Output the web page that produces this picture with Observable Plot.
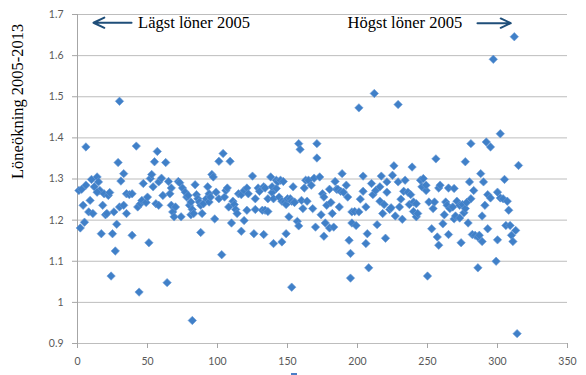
<!DOCTYPE html>
<html>
<head>
<meta charset="utf-8">
<script src="https://cdn.jsdelivr.net/npm/d3@7"></script>
<script src="https://cdn.jsdelivr.net/npm/@observablehq/plot@0.6"></script>
<style>
  html, body { margin: 0; padding: 0; background: #fff; }
  #chart { position: relative; width: 586px; height: 375px; overflow: hidden; }
  #legendbit { position: absolute; left: 291px; top: 373px; width: 6px; height: 2px; background: #4a7fc8; }
</style>
</head>
<body>
<div id="chart"><div id="legendbit"></div></div>
<script>
const xTicks = [0, 50, 100, 150, 200, 250, 300, 350];
const yTicks = [0.9, 1.0, 1.1, 1.2, 1.3, 1.4, 1.5, 1.6, 1.7];
const yLabel = "Löneökning 2005-2013";

// rank (x) and wage increase (y)
const xs = [
1,3,2,5,4,6,6,9,8,11,10,12,14,15,16,14,17,18,20,21,19,22,23,24,25,26,27,28,29,30,30,31,33,33,35,35,37,39,39,42,43,44,45,46,49,50,47,51,52,53,54,55,56,57,58,58,
60,61,63,65,67,66,67,68,70,69,72,73,74,75,77,78,79,80,81,82,81,84,85,86,83,87,88,88,89,90,92,93,94,94,95,96,97,98,99,101,101,104,103,105,106,107,108,109,110,111,112,113,114,115,117,117,119,119,64,82,
121,121,122,125,126,127,127,129,130,132,133,133,134,134,136,136,138,139,139,140,140,142,142,143,144,145,146,146,147,148,149,149,150,151,152,153,153,154,155,155,157,158,158,159,160,161,162,163,164,165,167,168,169,170,171,171,173,174,175,176,176,177,178,180,180,
181,182,183,184,185,186,187,188,189,190,192,193,194,195,195,196,196,198,199,201,201,202,204,204,206,206,207,208,210,211,212,213,214,216,216,217,218,219,220,221,221,223,224,225,226,227,229,229,230,231,232,233,234,236,237,238,239,240,240,
242,242,243,245,246,247,249,249,250,251,253,254,255,256,257,258,258,259,261,262,263,264,265,265,266,268,269,269,270,271,273,273,274,275,276,277,277,278,279,280,281,281,282,283,284,286,286,287,288,289,289,290,291,292,293,293,295,295,297,299,300,300,302,
312,315,305,302,304,307,308,306,309,313,310,311,314
];
const ys = [
1.272,1.275,1.181,1.195,1.236,1.378,1.285,1.248,1.220,1.216,1.299,1.281,1.305,1.293,1.272,1.268,1.167,1.236,1.213,1.216,1.264,1.260,1.267,1.064,1.167,1.220,1.125,1.190,1.340,1.489,1.232,1.295,1.313,1.236,1.216,1.264,1.262,1.264,1.163,1.380,1.232,1.025,1.240,1.248,1.243,1.256,1.289,1.145,1.301,1.311,1.281,1.342,1.240,1.367,1.236,1.293,
1.302,1.260,1.340,1.294,1.278,1.264,1.236,1.220,1.232,1.208,1.294,1.291,1.208,1.278,1.268,1.256,1.260,1.236,1.244,1.226,1.213,1.286,1.262,1.252,1.216,1.244,1.236,1.170,1.216,1.240,1.252,1.281,1.264,1.244,1.256,1.311,1.305,1.203,1.268,1.252,1.343,1.362,1.116,1.256,1.272,1.278,1.232,1.343,1.193,1.246,1.238,1.226,1.216,1.264,1.262,1.173,1.272,1.199,1.048,0.956,
1.278,1.224,1.264,1.307,1.167,1.226,1.252,1.278,1.270,1.224,1.281,1.165,1.224,1.278,1.221,1.252,1.305,1.267,1.281,1.143,1.252,1.297,1.277,1.293,1.256,1.297,1.246,1.147,1.294,1.244,1.167,1.238,1.252,1.208,1.252,1.037,1.246,1.281,1.244,1.243,1.197,1.386,1.186,1.372,1.248,1.228,1.278,1.297,1.246,1.297,1.285,1.228,1.302,1.183,1.386,1.351,1.305,1.213,1.264,1.161,1.256,1.193,1.236,1.275,1.181,
1.243,1.216,1.183,1.294,1.275,1.275,1.232,1.270,1.313,1.268,1.285,1.256,1.151,1.119,1.059,1.220,1.193,1.221,1.187,1.473,1.220,1.251,1.270,1.307,1.232,1.143,1.167,1.084,1.289,1.262,1.508,1.272,1.189,1.246,1.281,1.307,1.216,1.238,1.156,1.268,1.293,1.226,1.230,1.309,1.332,1.210,1.481,1.293,1.232,1.251,1.202,1.270,1.297,1.268,1.238,1.262,1.329,1.244,1.221,
1.240,1.208,1.216,1.297,1.281,1.301,1.272,1.285,1.064,1.244,1.179,1.228,1.244,1.349,1.159,1.139,1.278,1.285,1.191,1.213,1.244,1.236,1.165,1.278,1.228,1.232,1.203,1.277,1.210,1.246,1.236,1.205,1.145,1.238,1.218,1.342,1.228,1.243,1.193,1.293,1.252,1.386,1.165,1.272,1.163,1.084,1.159,1.163,1.313,1.210,1.148,1.293,1.236,1.390,1.179,1.262,1.378,1.254,1.591,1.100,1.152,1.268,1.410,
1.646,1.333,1.299,1.254,1.252,1.246,1.224,1.187,1.187,1.175,1.163,1.148,0.924
];

// annotation texts and their arrow anchors (data units)
const noteTexts = ["Lägst löner 2005", "Högst löner 2005"];
const noteX = [43.3, 192.9];
const noteY = [1.681, 1.681];
const arrowFrom = [38.6, 285.7];
const arrowTo = [11.4, 309.5];
const arrowY = [1.680, 1.679];

const points = xs.map((x, i) => ({x, y: ys[i]}));
const notes = noteTexts.map((t, i) => ({t, x: noteX[i], y: noteY[i], x1: arrowFrom[i], x2: arrowTo[i], ay: arrowY[i]}));

const tickFont = "Lato, 'Liberation Sans', sans-serif";
const serif = "'Liberation Serif', 'DejaVu Serif', serif";

const chart = Plot.plot({
  width: 586,
  height: 375,
  marginLeft: 77,
  marginRight: 19,
  marginTop: 14,
  marginBottom: 32,
  style: {fontFamily: tickFont, fontSize: "10.5px", color: "#595959", background: "#fff"},
  x: {domain: [0, 350]},
  y: {domain: [0.9, 1.7]},
  marks: [
    Plot.gridY(yTicks, {stroke: "#bdbdbd", strokeOpacity: 1, strokeWidth: 1}),
    Plot.ruleX([0], {stroke: "#a6a6a6"}),
    Plot.axisY(yTicks, {tickSize: 5, tickPadding: 9, stroke: "#a6a6a6", fill: "#595959", label: null,
      tickFormat: d => String(+d.toFixed(1))}),
    Plot.axisX(xTicks, {tickSize: 5, tickPadding: 9, stroke: "#a6a6a6", fill: "#595959", label: null,
      tickFormat: d => String(d)}),
    Plot.dot(points, {x: "x", y: "y", symbol: "diamond2", r: 3.8, fill: "#4080c8", stroke: "#6a9bd6", strokeWidth: 0.6}),
    Plot.arrow(notes, {x1: "x1", y1: "ay", x2: "x2", y2: "ay", stroke: "#1f4e79", strokeWidth: 2, headLength: 9, headAngle: 50}),
    Plot.text(notes, {x: "x", y: "y", text: "t", textAnchor: "start", fontFamily: serif, fontSize: 16.5, fill: "#000"}),
    Plot.text([yLabel], {frameAnchor: "left", rotate: -90, dx: -60, fontFamily: serif, fontSize: 16.5, fill: "#000"})
  ]
});
document.getElementById("chart").prepend(chart);
</script>
</body>
</html>
